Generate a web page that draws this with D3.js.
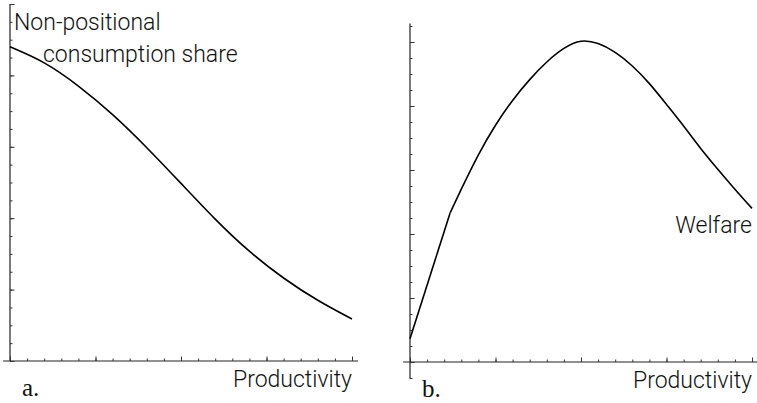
<!DOCTYPE html>
<html>
<head>
<meta charset="utf-8">
<script src="https://cdn.jsdelivr.net/npm/d3@7"></script>
<style>
  body { margin: 0; background: #fff; }
  svg { display: block; }
  .lbl { font-family: Roboto, "Liberation Sans", Arial, sans-serif; font-weight: 300; font-size: 23px; fill: #111; }
  .tag { font-family: "Liberation Serif", "DejaVu Serif", serif; font-size: 25px; fill: #111; }
  .tick line { stroke: #333; }
</style>
</head>
<body>
<svg id="chart" width="757" height="403"></svg>
<script>
// panel a: non-positional consumption share vs productivity
let prodA = [0, 2, 4, 6, 8, 10, 12, 14, 16, 18, 20]
let shareA = [17.6, 16.7, 15.4, 13.8, 11.95, 9.95, 7.95, 6.15, 4.65, 3.4, 2.35]

// panel b: welfare vs productivity, straight part up to the kink
let prodB1 = [0, 2.34]
let welfareB1 = [1.45, 9.3]
// smooth part after the kink
let prodB2 = [2.34, 3, 4, 5, 6, 7, 8, 9, 10, 11, 12, 13, 14, 15, 16, 17, 18, 19, 20]
let welfareB2 = [9.3, 10.8, 12.95, 14.8, 16.35, 17.65, 18.75, 19.6, 20.05, 19.9, 19.35, 18.5, 17.4, 16.1, 14.75, 13.35, 12.05, 10.8, 9.6]

let minorX = d3.range(0, 21)
let majorX = [0, 5, 10, 15, 20]
let minorYA = d3.range(0, 21)
let majorYA = [0, 4, 8, 12, 16, 20]
let minorYB = d3.range(-1, 22)
let majorYB = [0, 4, 8, 12, 16, 20]

let svg = d3.select("#chart")

function drawAxes(x, y, minorY, majorY, xExt, yExt) {
  let g = svg.append("g")
  // axis lines
  g.append("line")
    .attr("x1", x(xExt[0])).attr("x2", x(xExt[1]))
    .attr("y1", y(0)).attr("y2", y(0))
    .attr("stroke", "#222").attr("stroke-width", 1.2)
  g.append("line")
    .attr("x1", x(0)).attr("x2", x(0))
    .attr("y1", y(yExt[0])).attr("y2", y(yExt[1]))
    .attr("stroke", "#222").attr("stroke-width", 1.2)

  // ticks, pointing into the plot
  let ax = function(a) { a.select(".domain").remove() }
  g.append("g").attr("transform", "translate(0," + y(0) + ")")
    .call(d3.axisBottom(x).tickValues(minorX).tickSize(-2.5).tickSizeOuter(0).tickFormat("")).call(ax)
  g.append("g").attr("transform", "translate(0," + y(0) + ")")
    .call(d3.axisBottom(x).tickValues(majorX).tickSize(-4.5).tickSizeOuter(0).tickFormat("")).call(ax)
  g.append("g").attr("transform", "translate(" + x(0) + ",0)")
    .call(d3.axisLeft(y).tickValues(minorY).tickSize(-2.5).tickSizeOuter(0).tickFormat("")).call(ax)
  g.append("g").attr("transform", "translate(" + x(0) + ",0)")
    .call(d3.axisLeft(y).tickValues(majorY).tickSize(-4.5).tickSizeOuter(0).tickFormat("")).call(ax)
  return g
}

function drawCurve(g, x, y, xs, ys, curve) {
  let line = d3.line().x(d => x(d[0])).y(d => y(d[1])).curve(curve)
  g.append("path")
    .datum(d3.zip(xs, ys))
    .attr("d", line)
    .attr("fill", "none")
    .attr("stroke", "#000")
    .attr("stroke-width", 1.6)
    .attr("stroke-linejoin", "round")
}

let xA = d3.scaleLinear().domain([0, 20]).range([10, 352])
let yA = d3.scaleLinear().domain([0, 20]).range([361, 4])
let gA = drawAxes(xA, yA, minorYA, majorYA, [-0.4, 20.35], [0, 20])
drawCurve(gA, xA, yA, prodA, shareA, d3.curveNatural)

let xB = d3.scaleLinear().domain([0, 20]).range([410, 752])
let yB = d3.scaleLinear().domain([0, 21]).range([362, 26])
let gB = drawAxes(xB, yB, minorYB, majorYB, [-0.4, 20.4], [-1.05, 21.15])
drawCurve(gB, xB, yB, prodB1, welfareB1, d3.curveLinear)
drawCurve(gB, xB, yB, prodB2, welfareB2, d3.curveNatural)

// labels
gA.append("text").attr("class", "lbl").attr("x", 14).attr("y", 30).text("Non-positional")
gA.append("text").attr("class", "lbl").attr("x", 43).attr("y", 62).text("consumption share")
gA.append("text").attr("class", "lbl").attr("x", 352).attr("y", 387).attr("text-anchor", "end").text("Productivity")
gA.append("text").attr("class", "tag").attr("x", 22).attr("y", 396).text("a.")

gB.append("text").attr("class", "lbl").attr("x", 752).attr("y", 233).attr("text-anchor", "end").text("Welfare")
gB.append("text").attr("class", "lbl").attr("x", 752).attr("y", 388).attr("text-anchor", "end").text("Productivity")
gB.append("text").attr("class", "tag").attr("x", 422).attr("y", 397).text("b.")
</script>
</body>
</html>
